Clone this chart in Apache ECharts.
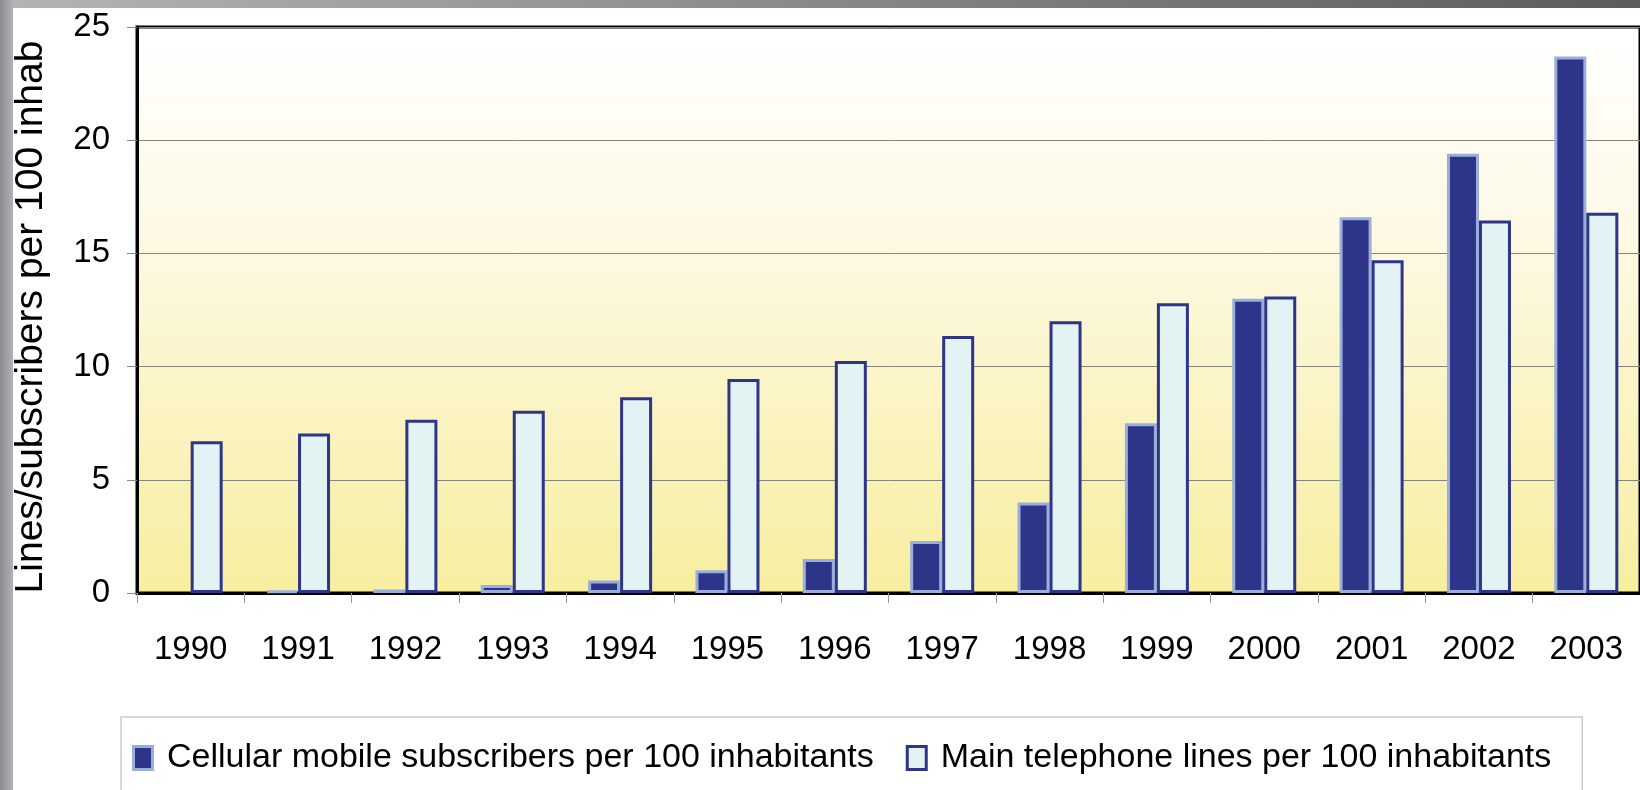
<!DOCTYPE html>
<html>
<head>
<meta charset="utf-8">
<script src="https://cdn.jsdelivr.net/npm/echarts@6/dist/echarts.min.js"></script>
<style>
  html, body { margin: 0; padding: 0; background: #fff; }
  #top_strip { position: absolute; left: 0; top: 0; width: 1640px; height: 8px;
    background: linear-gradient(to right, #b5b3b8, #5d5a60); }
  #left_strip { position: absolute; left: 0; top: 0; width: 13px; height: 790px;
    background: linear-gradient(to right, #8e8c91, #b2b0b5); }
  #bar_chart { position: absolute; left: 0; top: 0; width: 1640px; height: 790px; }
</style>
</head>
<body>
<div id="top_strip"></div>
<div id="left_strip"></div>
<div id="bar_chart"></div>
<script>
const years = ['1990', '1991', '1992', '1993', '1994', '1995', '1996',
  '1997', '1998', '1999', '2000', '2001', '2002', '2003'];
// 1990 has no visible cellular bar
const cellular = [null, 0.1, 0.15, 0.35, 0.55, 1.0, 1.5, 2.3, 4.0, 7.5, 13.0, 16.6, 19.4, 23.7];
const mainLines = [6.7, 7.05, 7.65, 8.05, 8.65, 9.45, 10.25, 11.35, 12.0, 12.8, 13.1, 14.7, 16.45, 16.8];
const yTicks = [0, 5, 10, 15, 20, 25];

const font = "'Liberation Sans', Arial, sans-serif";

const eChart = echarts.init(document.getElementById('bar_chart'));
const option = {
  backgroundColor: 'transparent',
  animation: false,
  grid: {
    left: 137,
    right: 0,
    top: 27,
    bottom: 197,
    show: true,
    borderColor: '#000',
    borderWidth: 3,
    backgroundColor: new echarts.graphic.LinearGradient(0, 0, 0, 1, [
      { offset: 0, color: '#ffffff' },
      { offset: 0.35, color: '#fdf9e6' },
      { offset: 1, color: '#f7ee9f' },
    ]),
  },
  legend: {
    left: 121,
    top: 717,
    padding: [24, 31, 40, 11],
    borderColor: '#cccccc',
    borderWidth: 1.5,
    itemWidth: 19,
    itemHeight: 23,
    itemGap: 32,
    icon: 'rect',
    itemStyle: { borderWidth: 3 },
    formatter: ' {name}',
    textStyle: { fontFamily: font, fontSize: 34, color: '#000' },
    data: ['Cellular mobile subscribers per 100 inhabitants', 'Main telephone lines per 100 inhabitants'],
  },
  xAxis: {
    type: 'category',
    data: years,
    axisLine: { lineStyle: { color: '#000', width: 3 } },
    axisTick: { show: true, length: 10, lineStyle: { color: '#999' } },
    axisLabel: { margin: 40, fontFamily: font, fontSize: 33, color: '#000', interval: 0 },
  },
  yAxis: {
    type: 'value',
    min: yTicks[0],
    max: yTicks[yTicks.length - 1],
    interval: 5,
    name: 'Lines/subscribers per 100 inhab',
    nameLocation: 'middle',
    nameRotate: 90,
    nameGap: 86,
    nameTextStyle: { fontFamily: font, fontSize: 39, color: '#000', padding: [0, 14, 0, 0] },
    axisLine: { show: true, lineStyle: { color: '#000', width: 3 } },
    axisTick: { show: true, length: 10, lineStyle: { color: '#888' } },
    axisLabel: { margin: 27, fontFamily: font, fontSize: 33, color: '#000' },
    splitLine: { lineStyle: { color: '#85857a', width: 1 } },
  },
  series: [{
    name: 'Cellular mobile subscribers per 100 inhabitants',
    type: 'bar',
    data: cellular,
    barWidth: 32,
    barGap: '0%',
    itemStyle: { color: '#2e3589', borderColor: '#9aaedb', borderWidth: 3 },
  }, {
    name: 'Main telephone lines per 100 inhabitants',
    type: 'bar',
    data: mainLines,
    barWidth: 32,
    barGap: '0%',
    itemStyle: { color: '#e3f2f2', borderColor: '#2e3589', borderWidth: 3 },
  }],
};
eChart.setOption(option);
</script>
</body>
</html>
